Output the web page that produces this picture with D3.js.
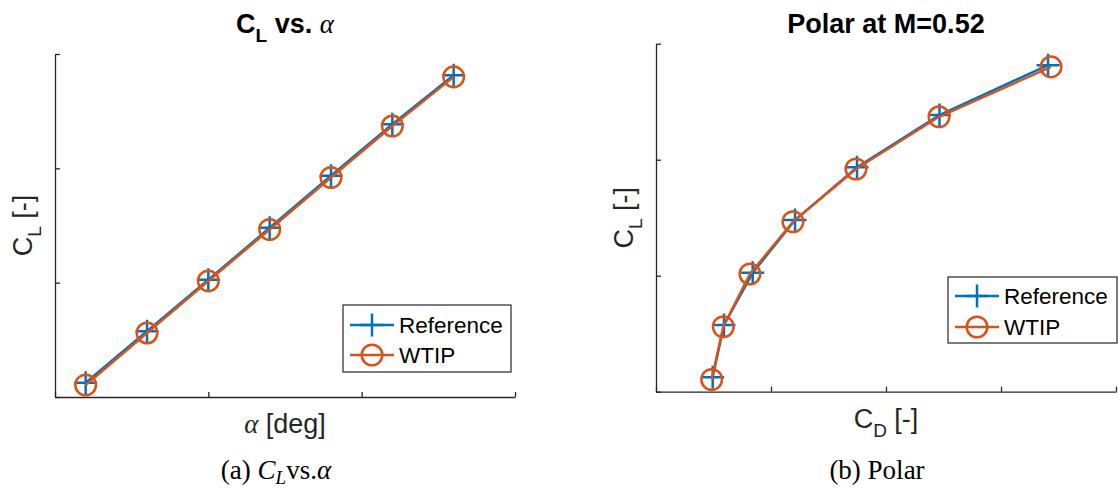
<!DOCTYPE html>
<html>
<head>
<meta charset="utf-8">
<script src="https://cdn.jsdelivr.net/npm/d3@7"></script>
<style>
  body { margin: 0; background: #fff; }
  svg { display: block; }
</style>
</head>
<body>
<svg id="fig" width="1118" height="495"></svg>
<script>
// Data (tick labels are hidden in the original)
const alphaDeg = [-2, -1, 0, 1, 2, 3, 4];
const clReference = [0.025, 0.115, 0.205, 0.296, 0.387, 0.477, 0.563];
const clWtip = [0.021, 0.112, 0.203, 0.293, 0.384, 0.474, 0.560];
const cdReference = [0.00993, 0.01091, 0.01341, 0.01709, 0.02248, 0.02965, 0.03909];
const cdWtip = [0.00984, 0.01085, 0.01317, 0.01691, 0.02239, 0.02961, 0.03935];

const alphaTicks = [-2.5, 0, 2.5, 5];
const clTicks = [0, 0.2, 0.4, 0.6];
const cdTicks = [0.005, 0.015, 0.025, 0.035, 0.045];

const seriesNames = ["Reference", "WTIP"];

const blue = "#0072BD", orange = "#D95319", axisColor = "#262626";
const sans = "'Liberation Sans', Arial, sans-serif";
const serif = "'Liberation Serif', 'Times New Roman', serif";

const svg = d3.select("#fig");
svg.append("rect").attr("width", 1118).attr("height", 495).attr("fill", "#fff");

function crossPath(s) { return `M${-s},0H${s}M0,${-s}V${s}`; }

function drawPanel(cfg) {
    const x = d3.scaleLinear().domain(cfg.xDomain).range(cfg.xRange);
    const y = d3.scaleLinear().domain(cfg.yDomain).range(cfg.yRange);
    const g = svg.append("g");

    // axes, ticks pointing inward, no labels
    const gx = g.append("g")
        .attr("transform", `translate(0,${cfg.yRange[0]})`)
        .call(d3.axisBottom(x).tickValues(cfg.xTicks).tickSizeInner(-5).tickSizeOuter(0).tickFormat(""));
    const gy = g.append("g")
        .attr("transform", `translate(${cfg.xRange[0]},0)`)
        .call(d3.axisLeft(y).tickValues(cfg.yTicks).tickSizeInner(-5).tickSizeOuter(0).tickFormat(""));
    [gx, gy].forEach(a => {
        a.select(".domain").attr("stroke", axisColor).attr("stroke-width", 1.3);
        a.selectAll(".tick line").attr("stroke", axisColor).attr("stroke-width", 1.3);
    });

    const pts = (xs, ys) => xs.map((v, i) => [x(v), y(ys[i])]);
    const line = d3.line();

    // Reference
    const refPts = pts(cfg.xRef, cfg.yRef);
    g.append("path").attr("d", line(refPts)).attr("fill", "none")
        .attr("stroke", blue).attr("stroke-width", 2.5);
    g.selectAll(".ref").data(refPts).join("path")
        .attr("transform", d => `translate(${d[0]},${d[1]})`)
        .attr("d", crossPath(11.5)).attr("stroke", blue).attr("stroke-width", 2.5);

    // WTIP
    const wPts = pts(cfg.xW, cfg.yW);
    g.append("path").attr("d", line(wPts)).attr("fill", "none")
        .attr("stroke", orange).attr("stroke-width", 2.5);
    g.selectAll(".wtip").data(wPts).join("circle")
        .attr("cx", d => d[0]).attr("cy", d => d[1]).attr("r", 10.3)
        .attr("fill", "none").attr("stroke", orange).attr("stroke-width", 2.5);

    // legend
    const lg = g.append("g").attr("transform", `translate(${cfg.legend[0]},${cfg.legend[1]})`);
    lg.append("rect").attr("width", cfg.legend[2]).attr("height", cfg.legend[3])
        .attr("fill", "#fff").attr("stroke", axisColor).attr("stroke-width", 1.2);
    seriesNames.forEach((name, i) => {
        const row = lg.append("g").attr("transform", `translate(7,${cfg.legendRow0 + i * cfg.legendStep})`);
        const col = i === 0 ? blue : orange;
        row.append("line").attr("x1", 0).attr("x2", 44).attr("stroke", col).attr("stroke-width", 2.5);
        if (i === 0) {
            row.append("path").attr("transform", "translate(22,0)").attr("d", crossPath(11.5))
                .attr("stroke", col).attr("stroke-width", 2.5);
        } else {
            row.append("circle").attr("cx", 22).attr("r", 10.3).attr("fill", "none")
                .attr("stroke", col).attr("stroke-width", 2.5);
        }
        row.append("text").attr("x", 49).attr("y", 8)
            .style("font-family", sans).style("font-size", "22.5px").attr("fill", "#000")
            .text(name);
    });

    // y label: C_L [-]
    const cx = (cfg.xRange[0] + cfg.xRange[1]) / 2;
    const cy = (cfg.yRange[0] + cfg.yRange[1]) / 2;
    const yl = g.append("text")
        .attr("transform", `translate(${cfg.xRange[0] - 23},${cy}) rotate(-90)`)
        .attr("text-anchor", "middle")
        .style("font-family", sans).style("font-size", "27px").attr("fill", axisColor);
    yl.append("tspan").text("C");
    yl.append("tspan").attr("dy", 9).style("font-size", "19px").text("L");
    yl.append("tspan").attr("dy", -9).text(" [-]");

    // x label
    const xl = g.append("text").attr("x", cx).attr("y", cfg.xLabelY)
        .attr("text-anchor", "middle")
        .style("font-family", sans).style("font-size", "27px").attr("fill", axisColor);
    cfg.xLabel(xl);

    // title
    const tl = g.append("text").attr("x", cx).attr("y", 33)
        .attr("text-anchor", "middle")
        .style("font-family", sans).style("font-size", "27px").style("font-weight", "bold").attr("fill", "#000");
    cfg.title(tl);

    // caption
    const cap = svg.append("text").attr("x", cfg.captionX).attr("y", 479)
        .attr("text-anchor", "middle")
        .style("font-family", serif).style("font-size", "27px").attr("fill", "#000");
    cfg.caption(cap);
}

drawPanel({
    xDomain: [alphaTicks[0], alphaTicks[3]], xRange: [55, 515],
    yDomain: [clTicks[0], clTicks[3]], yRange: [397, 54],
    xTicks: alphaTicks, yTicks: clTicks,
    xRef: alphaDeg, yRef: clReference, xW: alphaDeg, yW: clWtip,
    legend: [343, 305, 168, 67], legendRow0: 20, legendStep: 30,
    xLabelY: 433,
    xLabel: t => {
        t.append("tspan").style("font-family", serif).style("font-style", "italic").text("α");
        t.append("tspan").text(" [deg]");
    },
    title: t => {
        t.append("tspan").text("C");
        t.append("tspan").attr("dy", 9).style("font-size", "19px").text("L");
        t.append("tspan").attr("dy", -9).text(" vs. ");
        t.append("tspan").style("font-family", serif).style("font-style", "italic")
            .style("font-weight", "normal").text("α");
    },
    captionX: 276,
    caption: t => {
        t.append("tspan").text("(a) ");
        t.append("tspan").style("font-style", "italic").text("C");
        t.append("tspan").attr("dy", 5).style("font-style", "italic").style("font-size", "19px").text("L");
        t.append("tspan").attr("dy", -5).text("vs.");
        t.append("tspan").style("font-style", "italic").text("α");
    }
});

drawPanel({
    xDomain: [cdTicks[0], cdTicks[4]], xRange: [656, 1116],
    yDomain: [clTicks[0], clTicks[3]], yRange: [391.7, 43.7],
    xTicks: cdTicks, yTicks: clTicks,
    xRef: cdReference, yRef: clReference, xW: cdWtip, yW: clWtip,
    legend: [948, 277, 169, 66], legendRow0: 19, legendStep: 31,
    xLabelY: 428,
    xLabel: t => {
        t.append("tspan").text("C");
        t.append("tspan").attr("dy", 9).style("font-size", "19px").text("D");
        t.append("tspan").attr("dy", -9).text(" [-]");
    },
    title: t => { t.text("Polar at M=0.52"); },
    captionX: 877,
    caption: t => { t.text("(b) Polar"); }
});
</script>
</body>
</html>
